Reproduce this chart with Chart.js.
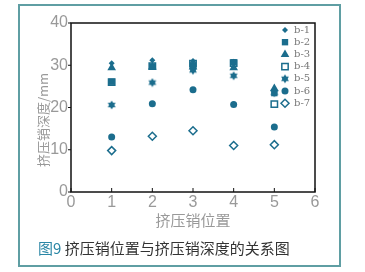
<!DOCTYPE html>
<html>
<head>
<meta charset="utf-8">
<script src="https://cdn.jsdelivr.net/npm/chart.js@4/dist/chart.umd.min.js"></script>
<style>
  html, body { margin: 0; padding: 0; background: #fff; }
  #wrap { position: relative; width: 365px; height: 272px; }
  #frame {
    position: absolute; left: 18px; top: 4px; width: 319px; height: 259px;
    border: 2px solid #5f9ea3;
  }
  #caption {
    position: absolute; left: 38px; top: 237px;
    font: 15px "Noto Sans CJK SC", sans-serif; color: #333; white-space: nowrap;
  }
  #caption span { color: #2b87a6; }
  canvas { position: absolute; left: 0; top: 0; }
</style>
</head>
<body>
<div id="wrap">
  <div id="frame"></div>
  <canvas id="chart" width="365" height="272"></canvas>
  <div id="caption"><span>图9</span> 挤压销位置与挤压销深度的关系图</div>
</div>
<script>
const positions = [1, 2, 3, 4, 5];
const b1 = [30.5, 31.2, 31.0, 30.8, 24.0];
const b2 = [26.1, 29.7, 30.0, 30.7, 23.4];
const b3 = [29.4, 29.6, 29.6, 29.4, 24.5];
const b4 = [26.0, 29.8, 30.4, 30.5, 20.8];
const b5 = [20.6, 25.9, 28.8, 27.5, 23.5];
const b6 = [13.0, 20.9, 24.2, 20.7, 15.4];
const b7 = [9.8, 13.2, 14.5, 11.0, 11.2];
const seriesLabels = ["b-1", "b-2", "b-3", "b-4", "b-5", "b-6", "b-7"];
const xTicks = [0, 1, 2, 3, 4, 5, 6];
const yTicks = [0, 10, 20, 30, 40];

const color = "#1b6d8d";
const grayText = "#999";
const tickFont = { family: "Liberation Sans Narrow, Liberation Sans, sans-serif", size: 16 };

function makeHexStar(size) {
  const c = document.createElement("canvas");
  c.width = size;
  c.height = size;
  const g = c.getContext("2d");
  const cx = size / 2, cy = size / 2, r = size / 2 - 0.5;
  g.fillStyle = color;
  for (const start of [-Math.PI / 2, Math.PI / 2]) {
    g.beginPath();
    for (let i = 0; i < 3; i += 1) {
      const a = start + (i * 2 * Math.PI) / 3;
      const px = cx + r * Math.cos(a);
      const py = cy + r * Math.sin(a);
      if (i === 0) g.moveTo(px, py); else g.lineTo(px, py);
    }
    g.closePath();
    g.fill();
  }
  return c;
}

const hexStar = makeHexStar(10);

const styles = [
  { pointStyle: "rectRot", radius: 3, fill: true },
  { pointStyle: "rect", radius: 4.5, fill: true },
  { pointStyle: "triangle", radius: 5, fill: true },
  { pointStyle: "rect", radius: 4.5, fill: false },
  { pointStyle: hexStar, radius: 5, fill: true },
  { pointStyle: "circle", radius: 3.5, fill: true },
  { pointStyle: "rectRot", radius: 4, fill: false },
];
const values = [b1, b2, b3, b4, b5, b6, b7];

const datasets = values.map((vals, i) => ({
  label: seriesLabels[i],
  data: positions.map((x, j) => ({ x, y: vals[j] })),
  pointStyle: styles[i].pointStyle,
  pointRadius: styles[i].radius,
  pointBorderWidth: styles[i].fill ? 0 : 1.5,
  pointBackgroundColor: styles[i].fill ? color : "#fff",
  pointBorderColor: color,
  showLine: false,
}));

const decorations = {
  id: "decorations",
  afterDatasetsDraw(chart) {
    const { ctx, chartArea, scales } = chart;
    ctx.save();
    // box
    ctx.strokeStyle = "#111";
    ctx.lineWidth = 1.5;
    ctx.strokeRect(chartArea.left, chartArea.top, chartArea.right - chartArea.left, chartArea.bottom - chartArea.top);
    // ticks: inward on x, outward on y
    ctx.lineWidth = 1;
    xTicks.forEach((v) => {
      const px = scales.x.getPixelForValue(v);
      ctx.beginPath();
      ctx.moveTo(px, chartArea.bottom);
      ctx.lineTo(px, chartArea.bottom - 4);
      ctx.stroke();
    });
    yTicks.forEach((v) => {
      const py = scales.y.getPixelForValue(v);
      ctx.beginPath();
      ctx.moveTo(chartArea.left, py);
      ctx.lineTo(chartArea.left - 3, py);
      ctx.stroke();
    });
    ctx.restore();

    // legend
    datasets.forEach((ds, i) => {
      const y = 30 + i * 12.2;
      ctx.save();
      ctx.fillStyle = ds.pointBackgroundColor;
      ctx.strokeStyle = ds.pointBorderColor;
      ctx.lineWidth = ds.pointBorderWidth;
      Chart.helpers.drawPoint(ctx, {
        pointStyle: ds.pointStyle,
        radius: ds.pointRadius,
        rotation: 0,
        borderWidth: ds.pointBorderWidth,
      }, 285, y);
      ctx.restore();
      ctx.save();
      ctx.font = '10px "DejaVu Serif", serif';
      ctx.textBaseline = "middle";
      ctx.textAlign = "left";
      ctx.fillStyle = "#777";
      ctx.fillText(ds.label, 294, y);
      ctx.restore();
    });

    // axis titles
    ctx.save();
    ctx.fillStyle = grayText;
    ctx.textAlign = "center";
    ctx.textBaseline = "middle";
    ctx.font = '15px "Noto Sans CJK SC", sans-serif';
    ctx.fillText("挤压销位置", (chartArea.left + chartArea.right) / 2, 220);
    ctx.font = '13px "Noto Sans CJK SC", sans-serif';
    ctx.translate(43, 120);
    ctx.rotate(-Math.PI / 2);
    ctx.fillText("挤压销深度/mm", 0, 0);
    ctx.restore();
  },
};

new Chart(document.getElementById("chart"), {
  type: "scatter",
  data: { datasets },
  options: {
    responsive: false,
    animation: false,
    layout: { padding: { left: 0, top: 23, right: 50, bottom: 0 } },
    plugins: { legend: { display: false }, tooltip: { enabled: false } },
    scales: {
      x: {
        type: "linear",
        min: 0,
        max: 6,
        afterBuildTicks(scale) { scale.ticks = xTicks.map((v) => ({ value: v })); },
        afterFit(scale) { scale.height = 80; },
        grid: { display: false, drawTicks: false, tickLength: 0 },
        border: { display: false },
        ticks: { color: grayText, font: tickFont, padding: 1 },
      },
      y: {
        min: 0,
        max: 40,
        afterBuildTicks(scale) { scale.ticks = yTicks.map((v) => ({ value: v })); },
        afterFit(scale) { scale.width = 71; },
        grid: { display: false, drawTicks: false, tickLength: 0 },
        border: { display: false },
        ticks: { color: grayText, font: tickFont, padding: 3 },
      },
    },
  },
  plugins: [decorations],
});
</script>
</body>
</html>
